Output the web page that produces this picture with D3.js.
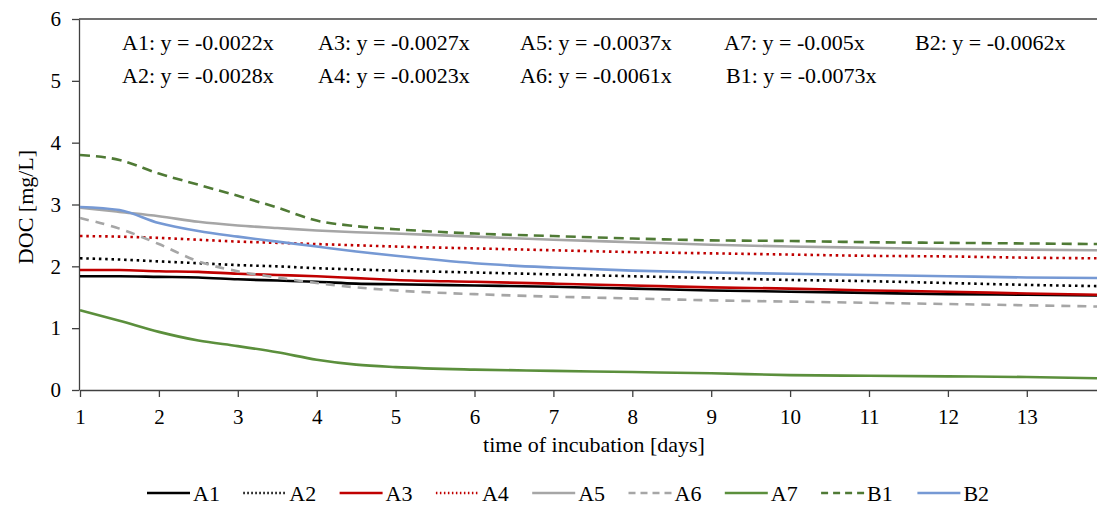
<!DOCTYPE html>
<html>
<head>
<meta charset="utf-8">
<script src="https://cdnjs.cloudflare.com/ajax/libs/d3/7.8.5/d3.min.js"></script>
<style>
  body { margin: 0; background: #fff; }
  svg { display: block; }
</style>
</head>
<body>
<script>
// Day of incubation for every reading
var days = [1, 1.5, 2, 2.5, 3, 3.5, 4, 4.5, 5, 6, 7, 8, 9, 10, 11, 12, 13, 13.9];

// DOC [mg/L] per sample
var A1 = [1.84, 1.84, 1.83, 1.82, 1.79, 1.77, 1.75, 1.72, 1.71, 1.69, 1.67, 1.64, 1.61, 1.59, 1.57, 1.55, 1.54, 1.53];
var A2 = [2.13, 2.11, 2.08, 2.05, 2.02, 2.00, 1.97, 1.95, 1.93, 1.90, 1.87, 1.84, 1.81, 1.78, 1.76, 1.73, 1.70, 1.68];
var A3 = [1.94, 1.94, 1.92, 1.91, 1.88, 1.86, 1.84, 1.81, 1.78, 1.75, 1.72, 1.69, 1.66, 1.64, 1.61, 1.59, 1.56, 1.54];
var A4 = [2.49, 2.48, 2.46, 2.43, 2.40, 2.38, 2.36, 2.34, 2.32, 2.29, 2.26, 2.23, 2.21, 2.19, 2.17, 2.16, 2.14, 2.13];
var A5 = [2.95, 2.88, 2.81, 2.72, 2.66, 2.62, 2.58, 2.55, 2.53, 2.48, 2.43, 2.39, 2.35, 2.32, 2.30, 2.28, 2.27, 2.26];
var A6 = [2.78, 2.61, 2.36, 2.08, 1.92, 1.82, 1.73, 1.66, 1.61, 1.55, 1.51, 1.48, 1.45, 1.43, 1.41, 1.39, 1.37, 1.35];
var A7 = [1.29, 1.12, 0.94, 0.80, 0.71, 0.61, 0.49, 0.41, 0.37, 0.33, 0.31, 0.29, 0.27, 0.24, 0.23, 0.22, 0.21, 0.19];
var B1 = [3.80, 3.72, 3.50, 3.32, 3.14, 2.95, 2.74, 2.65, 2.60, 2.53, 2.49, 2.45, 2.42, 2.41, 2.39, 2.38, 2.37, 2.36];
var B2 = [2.96, 2.91, 2.70, 2.57, 2.48, 2.40, 2.32, 2.24, 2.17, 2.05, 1.98, 1.93, 1.90, 1.88, 1.86, 1.84, 1.82, 1.81];

var seriesNames = ["A1", "A2", "A3", "A4", "A5", "A6", "A7", "B1", "B2"];
var seriesValues = [A1, A2, A3, A4, A5, A6, A7, B1, B2];

// regression equations printed in the plot
var equations = [
  ["A1: y = -0.0022x", "A3: y = -0.0027x", "A5: y = -0.0037x", "A7: y = -0.005x", "B2: y = -0.0062x"],
  ["A2: y = -0.0028x", "A4: y = -0.0023x", "A6: y = -0.0061x", "B1: y = -0.0073x"]
];

var xTicks = [1, 2, 3, 4, 5, 6, 7, 8, 9, 10, 11, 12, 13];
var yTicks = [0, 1, 2, 3, 4, 5, 6];

// line look for each sample
var styles = {
  A1: { color: "#000000", dash: null },
  A2: { color: "#000000", dash: "2.5,3.8" },
  A3: { color: "#c00000", dash: null },
  A4: { color: "#c00000", dash: "2.5,3.8" },
  A5: { color: "#a6a6a6", dash: null },
  A6: { color: "#a6a6a6", dash: "9,7" },
  A7: { color: "#5b8f3c", dash: null },
  B1: { color: "#4f7a35", dash: "10,6" },
  B2: { color: "#7699d4", dash: null }
};

var svgWidth = 1097;
var svgHeight = 512;

var margin = { top: 19, left: 80, bottom: 122 };
var dayWidth = 78.9;

var serif = "Liberation Serif, Times New Roman, DejaVu Serif, serif";

var svg = d3.select("body")
  .append("svg")
  .attr("width", svgWidth)
  .attr("height", svgHeight)
  .attr("font-family", serif)
  .attr("font-size", 22);

var xScale = d3.scaleLinear()
  .domain([1, 14])
  .range([margin.left, margin.left + 13 * dayWidth]);

var yScale = d3.scaleLinear()
  .domain([0, 6])
  .range([svgHeight - margin.bottom, margin.top]);

var axisColor = "#404040";

// top border of plot area
svg.append("line")
  .attr("x1", xScale(1) - 1).attr("x2", svgWidth)
  .attr("y1", yScale(6)).attr("y2", yScale(6))
  .attr("stroke", axisColor).attr("stroke-width", 1.3);

// x axis
var bottomAxis = d3.axisBottom(xScale)
  .tickValues(xTicks)
  .tickFormat(d3.format("d"))
  .tickSize(7)
  .tickSizeOuter(0)
  .tickPadding(12);

var xAxisGroup = svg.append("g")
  .attr("transform", `translate(0, ${yScale(0)})`)
  .call(bottomAxis);

// y axis
var leftAxis = d3.axisLeft(yScale)
  .tickValues(yTicks)
  .tickFormat(d3.format("d"))
  .tickSize(7)
  .tickSizeOuter(0)
  .tickPadding(11);

var yAxisGroup = svg.append("g")
  .attr("transform", `translate(${xScale(1) - 1}, 0)`)
  .call(leftAxis);

[xAxisGroup, yAxisGroup].forEach(function(g) {
  g.attr("font-family", serif).attr("font-size", 21);
  g.select(".domain").attr("stroke", axisColor).attr("stroke-width", 1.3);
  g.selectAll(".tick line").attr("stroke", axisColor).attr("stroke-width", 1.3);
  g.selectAll(".tick text").attr("fill", "#000");
});

// axis titles
svg.append("text")
  .attr("x", 594)
  .attr("y", 452)
  .attr("text-anchor", "middle")
  .text("time of incubation [days]");

svg.append("text")
  .attr("transform", "translate(33, 207) rotate(-90)")
  .attr("text-anchor", "middle")
  .text("DOC [mg/L]");

// the data lines
var line = d3.line()
  .x((d, i) => xScale(days[i]))
  .y(d => yScale(d))
  .curve(d3.curveMonotoneX);

seriesNames.forEach(function(name, i) {
  svg.append("path")
    .attr("d", line(seriesValues[i]))
    .attr("fill", "none")
    .attr("stroke", styles[name].color)
    .attr("stroke-width", 2.6)
    .attr("stroke-dasharray", styles[name].dash);
});

// equations
var eqX = [122, 318, 520, 724, 915];
var eqY = [50, 83];
equations.forEach(function(row, r) {
  row.forEach(function(txt, c) {
    svg.append("text")
      .attr("x", eqX[c] + (r == 1 && c == 3 ? 2 : 0))
      .attr("y", eqY[r])
      .text(txt);
  });
});

// legend along the bottom
var legendX = 147;
var legendStep = 96.3;
var legendY = 493;

var legend = svg.append("g");
seriesNames.forEach(function(name, i) {
  var x0 = legendX + i * legendStep;
  legend.append("line")
    .attr("x1", x0).attr("x2", x0 + 43)
    .attr("y1", legendY).attr("y2", legendY)
    .attr("stroke", styles[name].color)
    .attr("stroke-width", 2.6)
    .attr("stroke-dasharray", name == "A2" || name == "A4" ? "1.5,2.5" : (styles[name].dash ? "7,5" : null));
  legend.append("text")
    .attr("x", x0 + 46)
    .attr("y", legendY + 8)
    .text(name);
});
</script>
</body>
</html>
